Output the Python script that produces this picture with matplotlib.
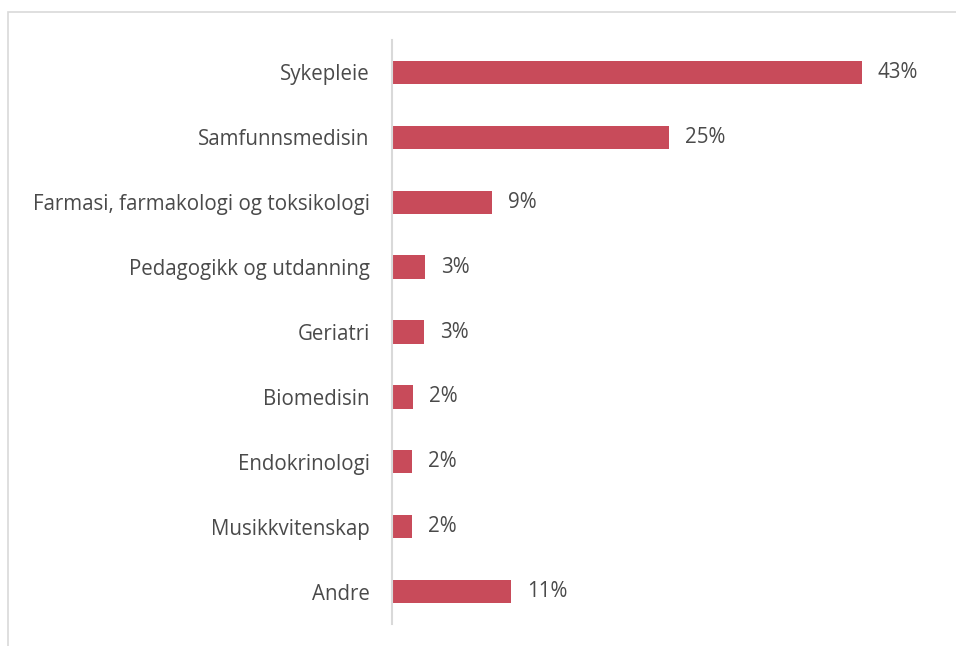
import matplotlib
matplotlib.use("Agg")
from matplotlib import pyplot as plt
from matplotlib.patches import Rectangle

# data (top to bottom)
categories = ["Sykepleie", "Samfunnsmedisin", "Farmasi, farmakologi og toksikologi",
              "Pedagogikk og utdanning", "Geriatri", "Biomedisin",
              "Endokrinologi", "Musikkvitenskap", "Andre"]
values = [43.0, 25.4, 9.2, 3.0, 2.9, 1.9, 1.8, 1.8, 10.9]
value_labels = ["43%", "25%", "9%", "3%", "3%", "2%", "2%", "2%", "11%"]

bar_color = "#C84B5A"
text_color = "#4A4A4A"
line_color = "#D9D9D9"

plt.rcParams['font.family'] = ['Open Sans', 'DejaVu Sans']

W, H = 956, 646
fig = plt.figure(figsize=(W / 100, H / 100), dpi=100)

# outer chart border (cut off at right and bottom)
fig.patches.append(Rectangle((8 / W, -0.1), 1.2, 1 - 12 / H + 0.1,
                             transform=fig.transFigure, fill=False,
                             edgecolor=line_color, linewidth=1.2))

ax = fig.add_axes([392 / W, 1 - 624 / H, 546 / W, 584 / H])
pos = list(range(len(categories)))
ax.barh(pos, values, height=0.36, color=bar_color)
ax.set_ylim(len(categories) - 0.5, -0.5)
ax.set_xlim(0, 50)

ax.set_yticks(pos)
ax.set_yticklabels(categories, fontsize=14.8, color=text_color)
ax.tick_params(axis='y', length=0, pad=16)
ax.set_xticks([])

for s in ["top", "right", "bottom"]:
    ax.spines[s].set_visible(False)
ax.spines["left"].set_color(line_color)
ax.spines["left"].set_linewidth(1.5)

for p, v, lab in zip(pos, values, value_labels):
    ax.annotate(lab, (v, p), xytext=(16, 0), textcoords="offset pixels",
                va="center", ha="left", fontsize=14.8, color=text_color)

fig.savefig("out.png", dpi=100)
